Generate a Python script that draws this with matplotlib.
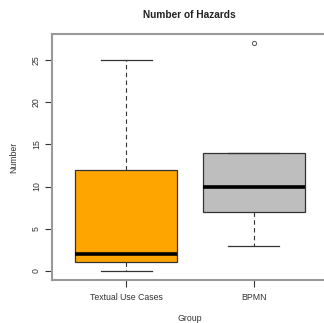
import matplotlib
matplotlib.use("Agg")
import matplotlib.pyplot as plt

# Summary values per group
groups = ["Textual Use Cases", "BPMN"]
whisker_low = [0, 3]
q1 = [1, 7]
median = [2, 10]
q3 = [12, 14]
whisker_high = [25, 14]
outliers = [[], [27]]
fills = ["#FFA500", "#BEBEBE"]
y_ticks = [0, 5, 10, 15, 20, 25]

plt.rcParams['font.family'] = ['Liberation Sans', 'DejaVu Sans']

W, H = 324, 323
fig = plt.figure(figsize=(W / 100, H / 100), dpi=100)
left, right, top, bottom = 52, 328, 34, 280
ax = fig.add_axes([left / W, 1 - bottom / H, (right - left) / W, (bottom - top) / H])

stats = []
for i, g in enumerate(groups):
    stats.append(dict(label=g, whislo=whisker_low[i], q1=q1[i], med=median[i],
                      q3=q3[i], whishi=whisker_high[i], fliers=outliers[i]))

edge = "#333333"
bp = ax.bxp(stats, positions=[1, 2], widths=0.8, patch_artist=True,
            boxprops=dict(edgecolor=edge, linewidth=0.9),
            medianprops=dict(color="black", linewidth=2.6, solid_capstyle="butt"),
            whiskerprops=dict(color=edge, linewidth=0.8, linestyle=(0, (4, 3))),
            capprops=dict(color=edge, linewidth=0.9),
            flierprops=dict(marker="o", markersize=3, markerfacecolor="none",
                            markeredgecolor="#555555", markeredgewidth=0.7),
            capwidths=0.4)
for patch, c in zip(bp["boxes"], fills):
    patch.set_facecolor(c)

ax.set_xlim(0.42, 2.58)
ax.set_ylim(-1.08, 28.08)
ax.set_yticks(y_ticks)
ax.set_yticklabels([str(v) for v in y_ticks], rotation=90, va="center")
ax.set_xticks([1, 2])
ax.set_xticklabels(groups)
ax.tick_params(labelsize=6.3, colors="#333333", length=5, width=0.8)
ax.tick_params(axis="y", pad=3)
ax.tick_params(axis="x", pad=4)

# the plot frame runs past the right edge of the figure
ax.spines["right"].set_visible(False)
for s in ax.spines.values():
    s.set_color("#999999")
    s.set_linewidth(1.5)

ax.set_ylabel("Number", fontsize=6.3, color="#333333", labelpad=10)
ax.set_xlabel("Group", fontsize=6.3, color="#333333", labelpad=9)
fig.text(189 / W, 1 - 15 / H, "Number of Hazards", ha="center", va="center",
         fontsize=7.3, fontweight="bold", color="#222222")

fig.savefig("out.png", dpi=100)
